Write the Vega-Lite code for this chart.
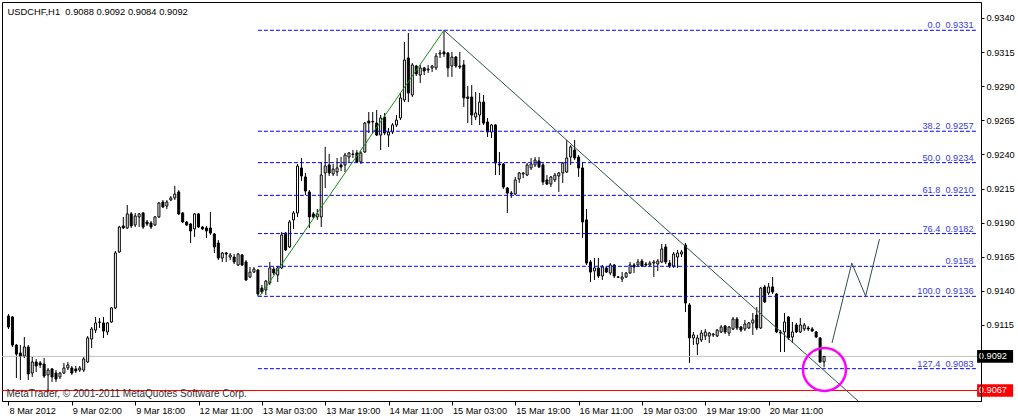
{
"$schema": "https://vega.github.io/schema/vega-lite/v6.json",
"width": 979, "height": 399,
"autosize": {"type": "none"},
"padding": {"left": 2, "top": 2, "right": 37, "bottom": 17},
"background": "white",
"config": {"view": {"stroke": "black", "strokeWidth": 1}, "font": "Liberation Sans", "axis": {"grid": false, "labelFont": "Liberation Sans", "labelFontSize": 9.2, "labelColor": "black", "tickColor": "black", "domainColor": "black"}},
"datasets": {
"candles": [
{"i":0,"o":0.91216,"h":0.91231,"l":0.91121,"c":0.91135},
{"i":1,"o":0.91209,"h":0.91216,"l":0.90989,"c":0.91003},
{"i":2,"o":0.91003,"h":0.91011,"l":0.90762,"c":0.90937},
{"i":3,"o":0.90945,"h":0.91003,"l":0.90747,"c":0.90923},
{"i":4,"o":0.90923,"h":0.91062,"l":0.90908,"c":0.90989},
{"i":5,"o":0.90989,"h":0.91003,"l":0.90747,"c":0.90791},
{"i":6,"o":0.90798,"h":0.90915,"l":0.90769,"c":0.90879},
{"i":7,"o":0.90879,"h":0.90901,"l":0.90806,"c":0.90850},
{"i":8,"o":0.90872,"h":0.90886,"l":0.90835,"c":0.90857},
{"i":9,"o":0.90864,"h":0.90908,"l":0.90762,"c":0.90776},
{"i":10,"o":0.90784,"h":0.90835,"l":0.90659,"c":0.90820},
{"i":11,"o":0.90828,"h":0.90835,"l":0.90732,"c":0.90769},
{"i":12,"o":0.90798,"h":0.90820,"l":0.90732,"c":0.90754},
{"i":13,"o":0.90769,"h":0.90806,"l":0.90754,"c":0.90798},
{"i":14,"o":0.90798,"h":0.90872,"l":0.90791,"c":0.90835},
{"i":15,"o":0.90835,"h":0.90879,"l":0.90820,"c":0.90857},
{"i":16,"o":0.90835,"h":0.90850,"l":0.90784,"c":0.90798},
{"i":17,"o":0.90828,"h":0.90850,"l":0.90798,"c":0.90813},
{"i":18,"o":0.90820,"h":0.90850,"l":0.90806,"c":0.90835},
{"i":19,"o":0.90820,"h":0.90915,"l":0.90806,"c":0.90901},
{"i":20,"o":0.90879,"h":0.91069,"l":0.90872,"c":0.91055},
{"i":21,"o":0.91047,"h":0.91135,"l":0.90981,"c":0.91121},
{"i":22,"o":0.91113,"h":0.91209,"l":0.91091,"c":0.91165},
{"i":23,"o":0.91172,"h":0.91201,"l":0.91128,"c":0.91170},
{"i":24,"o":0.91165,"h":0.91209,"l":0.91055,"c":0.91106},
{"i":25,"o":0.91099,"h":0.91172,"l":0.91077,"c":0.91165},
{"i":26,"o":0.91172,"h":0.91282,"l":0.91165,"c":0.91275},
{"i":27,"o":0.91275,"h":0.91692,"l":0.91267,"c":0.91678},
{"i":28,"o":0.91685,"h":0.91876,"l":0.91678,"c":0.91868},
{"i":29,"o":0.91876,"h":0.91942,"l":0.91854,"c":0.91861},
{"i":30,"o":0.91861,"h":0.92029,"l":0.91854,"c":0.91964},
{"i":31,"o":0.91964,"h":0.91978,"l":0.91861,"c":0.91876},
{"i":32,"o":0.91883,"h":0.91971,"l":0.91868,"c":0.91949},
{"i":33,"o":0.91942,"h":0.91971,"l":0.91868,"c":0.91964},
{"i":34,"o":0.91971,"h":0.91978,"l":0.91854,"c":0.91868},
{"i":35,"o":0.91905,"h":0.91920,"l":0.91876,"c":0.91890},
{"i":36,"o":0.91898,"h":0.91912,"l":0.91854,"c":0.91868},
{"i":37,"o":0.91883,"h":0.91949,"l":0.91876,"c":0.91942},
{"i":38,"o":0.91942,"h":0.92051,"l":0.91934,"c":0.92044},
{"i":39,"o":0.92051,"h":0.92066,"l":0.92007,"c":0.92015},
{"i":40,"o":0.92022,"h":0.92066,"l":0.92000,"c":0.92051},
{"i":41,"o":0.92066,"h":0.92095,"l":0.92059,"c":0.92081},
{"i":42,"o":0.92081,"h":0.92169,"l":0.92066,"c":0.92110},
{"i":43,"o":0.92125,"h":0.92139,"l":0.91956,"c":0.91964},
{"i":44,"o":0.91971,"h":0.91978,"l":0.91898,"c":0.91905},
{"i":45,"o":0.91905,"h":0.91912,"l":0.91876,"c":0.91883},
{"i":46,"o":0.91890,"h":0.91898,"l":0.91751,"c":0.91839},
{"i":47,"o":0.91854,"h":0.91971,"l":0.91795,"c":0.91964},
{"i":48,"o":0.91964,"h":0.91971,"l":0.91861,"c":0.91868},
{"i":49,"o":0.91868,"h":0.91876,"l":0.91846,"c":0.91854},
{"i":50,"o":0.91861,"h":0.91876,"l":0.91788,"c":0.91839},
{"i":51,"o":0.91861,"h":0.91978,"l":0.91810,"c":0.91824},
{"i":52,"o":0.91817,"h":0.91824,"l":0.91678,"c":0.91722},
{"i":53,"o":0.91751,"h":0.91773,"l":0.91626,"c":0.91641},
{"i":54,"o":0.91641,"h":0.91685,"l":0.91612,"c":0.91678},
{"i":55,"o":0.91678,"h":0.91685,"l":0.91612,"c":0.91670},
{"i":56,"o":0.91648,"h":0.91678,"l":0.91626,"c":0.91663},
{"i":57,"o":0.91648,"h":0.91670,"l":0.91597,"c":0.91612},
{"i":58,"o":0.91590,"h":0.91678,"l":0.91582,"c":0.91670},
{"i":59,"o":0.91663,"h":0.91670,"l":0.91582,"c":0.91590},
{"i":60,"o":0.91612,"h":0.91626,"l":0.91472,"c":0.91480},
{"i":61,"o":0.91502,"h":0.91575,"l":0.91494,"c":0.91538},
{"i":62,"o":0.91538,"h":0.91575,"l":0.91531,"c":0.91560},
{"i":63,"o":0.91553,"h":0.91560,"l":0.91360,"c":0.91377},
{"i":64,"o":0.91421,"h":0.91443,"l":0.91377,"c":0.91392},
{"i":65,"o":0.91407,"h":0.91480,"l":0.91370,"c":0.91472},
{"i":66,"o":0.91458,"h":0.91612,"l":0.91443,"c":0.91568},
{"i":67,"o":0.91560,"h":0.91575,"l":0.91516,"c":0.91531},
{"i":68,"o":0.91516,"h":0.91582,"l":0.91465,"c":0.91568},
{"i":69,"o":0.91568,"h":0.91832,"l":0.91560,"c":0.91810},
{"i":70,"o":0.91824,"h":0.91832,"l":0.91692,"c":0.91700},
{"i":71,"o":0.91722,"h":0.91920,"l":0.91714,"c":0.91905},
{"i":72,"o":0.91920,"h":0.91985,"l":0.91854,"c":0.91971},
{"i":73,"o":0.91971,"h":0.92330,"l":0.91942,"c":0.92315},
{"i":74,"o":0.92301,"h":0.92374,"l":0.92205,"c":0.92242},
{"i":75,"o":0.92235,"h":0.92264,"l":0.92103,"c":0.92132},
{"i":76,"o":0.92125,"h":0.92139,"l":0.91861,"c":0.91942},
{"i":77,"o":0.91964,"h":0.91978,"l":0.91927,"c":0.91942},
{"i":78,"o":0.91942,"h":0.92000,"l":0.91920,"c":0.91964},
{"i":79,"o":0.91942,"h":0.92345,"l":0.91868,"c":0.92249},
{"i":80,"o":0.92264,"h":0.92455,"l":0.92154,"c":0.92315},
{"i":81,"o":0.92323,"h":0.92403,"l":0.92242,"c":0.92264},
{"i":82,"o":0.92257,"h":0.92330,"l":0.92242,"c":0.92293},
{"i":83,"o":0.92271,"h":0.92374,"l":0.92242,"c":0.92301},
{"i":84,"o":0.92323,"h":0.92381,"l":0.92279,"c":0.92308},
{"i":85,"o":0.92323,"h":0.92411,"l":0.92271,"c":0.92396},
{"i":86,"o":0.92381,"h":0.92418,"l":0.92337,"c":0.92411},
{"i":87,"o":0.92403,"h":0.92433,"l":0.92374,"c":0.92400},
{"i":88,"o":0.92411,"h":0.92433,"l":0.92337,"c":0.92345},
{"i":89,"o":0.92345,"h":0.92425,"l":0.92330,"c":0.92411},
{"i":90,"o":0.92418,"h":0.92638,"l":0.92411,"c":0.92630},
{"i":91,"o":0.92645,"h":0.92711,"l":0.92557,"c":0.92630},
{"i":92,"o":0.92638,"h":0.92711,"l":0.92557,"c":0.92642},
{"i":93,"o":0.92630,"h":0.92726,"l":0.92535,"c":0.92542},
{"i":94,"o":0.92542,"h":0.92689,"l":0.92433,"c":0.92667},
{"i":95,"o":0.92674,"h":0.92704,"l":0.92542,"c":0.92557},
{"i":96,"o":0.92542,"h":0.92594,"l":0.92455,"c":0.92564},
{"i":97,"o":0.92564,"h":0.92630,"l":0.92550,"c":0.92616},
{"i":98,"o":0.92616,"h":0.92689,"l":0.92601,"c":0.92652},
{"i":99,"o":0.92667,"h":0.92850,"l":0.92652,"c":0.92814},
{"i":100,"o":0.92799,"h":0.93224,"l":0.92784,"c":0.93092},
{"i":101,"o":0.93107,"h":0.93290,"l":0.92784,"c":0.92850},
{"i":102,"o":0.92836,"h":0.93070,"l":0.92821,"c":0.93056},
{"i":103,"o":0.93048,"h":0.93056,"l":0.92975,"c":0.92990},
{"i":104,"o":0.92982,"h":0.93056,"l":0.92924,"c":0.93034},
{"i":105,"o":0.93034,"h":0.93041,"l":0.92982,"c":0.93012},
{"i":106,"o":0.93019,"h":0.93056,"l":0.92997,"c":0.93026},
{"i":107,"o":0.93034,"h":0.93056,"l":0.93004,"c":0.93048},
{"i":108,"o":0.93034,"h":0.93143,"l":0.93019,"c":0.93121},
{"i":109,"o":0.93136,"h":0.93165,"l":0.93107,"c":0.93143},
{"i":110,"o":0.93151,"h":0.93310,"l":0.93114,"c":0.93136},
{"i":111,"o":0.93143,"h":0.93151,"l":0.92968,"c":0.93034},
{"i":112,"o":0.93048,"h":0.93151,"l":0.92968,"c":0.93114},
{"i":113,"o":0.93114,"h":0.93121,"l":0.93034,"c":0.93048},
{"i":114,"o":0.93048,"h":0.93151,"l":0.93026,"c":0.93041},
{"i":115,"o":0.93056,"h":0.93092,"l":0.92748,"c":0.92814},
{"i":116,"o":0.92821,"h":0.92902,"l":0.92630,"c":0.92810},
{"i":117,"o":0.92821,"h":0.92909,"l":0.92616,"c":0.92689},
{"i":118,"o":0.92674,"h":0.92858,"l":0.92652,"c":0.92704},
{"i":119,"o":0.92689,"h":0.92850,"l":0.92616,"c":0.92784},
{"i":120,"o":0.92784,"h":0.92836,"l":0.92616,"c":0.92630},
{"i":121,"o":0.92638,"h":0.92667,"l":0.92528,"c":0.92564},
{"i":122,"o":0.92564,"h":0.92623,"l":0.92520,"c":0.92616},
{"i":123,"o":0.92616,"h":0.92623,"l":0.92249,"c":0.92337},
{"i":124,"o":0.92330,"h":0.92418,"l":0.92249,"c":0.92323},
{"i":125,"o":0.92330,"h":0.92337,"l":0.92147,"c":0.92161},
{"i":126,"o":0.92154,"h":0.92161,"l":0.91971,"c":0.92117},
{"i":127,"o":0.92117,"h":0.92132,"l":0.92081,"c":0.92110},
{"i":128,"o":0.92110,"h":0.92235,"l":0.92103,"c":0.92213},
{"i":129,"o":0.92220,"h":0.92271,"l":0.92191,"c":0.92264},
{"i":130,"o":0.92257,"h":0.92271,"l":0.92227,"c":0.92264},
{"i":131,"o":0.92249,"h":0.92337,"l":0.92242,"c":0.92323},
{"i":132,"o":0.92301,"h":0.92374,"l":0.92286,"c":0.92330},
{"i":133,"o":0.92323,"h":0.92381,"l":0.92308,"c":0.92359},
{"i":134,"o":0.92352,"h":0.92381,"l":0.92301,"c":0.92308},
{"i":135,"o":0.92323,"h":0.92337,"l":0.92176,"c":0.92198},
{"i":136,"o":0.92213,"h":0.92249,"l":0.92176,"c":0.92183},
{"i":137,"o":0.92183,"h":0.92242,"l":0.92161,"c":0.92235},
{"i":138,"o":0.92213,"h":0.92264,"l":0.92198,"c":0.92249},
{"i":139,"o":0.92242,"h":0.92271,"l":0.92125,"c":0.92264},
{"i":140,"o":0.92264,"h":0.92345,"l":0.92191,"c":0.92337},
{"i":141,"o":0.92271,"h":0.92506,"l":0.92264,"c":0.92374},
{"i":142,"o":0.92381,"h":0.92469,"l":0.92323,"c":0.92455},
{"i":143,"o":0.92433,"h":0.92506,"l":0.92359,"c":0.92374},
{"i":144,"o":0.92381,"h":0.92396,"l":0.92235,"c":0.92301},
{"i":145,"o":0.92301,"h":0.92345,"l":0.91788,"c":0.91905},
{"i":146,"o":0.91920,"h":0.92000,"l":0.91590,"c":0.91604},
{"i":147,"o":0.91612,"h":0.91626,"l":0.91465,"c":0.91538},
{"i":148,"o":0.91546,"h":0.91641,"l":0.91480,"c":0.91568},
{"i":149,"o":0.91568,"h":0.91641,"l":0.91494,"c":0.91509},
{"i":150,"o":0.91509,"h":0.91590,"l":0.91480,"c":0.91575},
{"i":151,"o":0.91568,"h":0.91582,"l":0.91531,"c":0.91538},
{"i":152,"o":0.91531,"h":0.91604,"l":0.91516,"c":0.91590},
{"i":153,"o":0.91590,"h":0.91597,"l":0.91494,"c":0.91509},
{"i":154,"o":0.91502,"h":0.91509,"l":0.91494,"c":0.91500},
{"i":155,"o":0.91487,"h":0.91538,"l":0.91465,"c":0.91502},
{"i":156,"o":0.91502,"h":0.91538,"l":0.91494,"c":0.91531},
{"i":157,"o":0.91531,"h":0.91612,"l":0.91524,"c":0.91590},
{"i":158,"o":0.91590,"h":0.91604,"l":0.91531,"c":0.91575},
{"i":159,"o":0.91590,"h":0.91634,"l":0.91575,"c":0.91612},
{"i":160,"o":0.91619,"h":0.91634,"l":0.91575,"c":0.91582},
{"i":161,"o":0.91597,"h":0.91612,"l":0.91575,"c":0.91590},
{"i":162,"o":0.91590,"h":0.91619,"l":0.91575,"c":0.91604},
{"i":163,"o":0.91604,"h":0.91626,"l":0.91502,"c":0.91612},
{"i":164,"o":0.91597,"h":0.91634,"l":0.91546,"c":0.91619},
{"i":165,"o":0.91612,"h":0.91744,"l":0.91604,"c":0.91707},
{"i":166,"o":0.91722,"h":0.91744,"l":0.91597,"c":0.91612},
{"i":167,"o":0.91604,"h":0.91626,"l":0.91568,"c":0.91582},
{"i":168,"o":0.91582,"h":0.91685,"l":0.91568,"c":0.91670},
{"i":169,"o":0.91648,"h":0.91700,"l":0.91568,"c":0.91678},
{"i":170,"o":0.91670,"h":0.91700,"l":0.91648,"c":0.91685},
{"i":171,"o":0.91736,"h":0.91751,"l":0.91245,"c":0.91311},
{"i":172,"o":0.91297,"h":0.91311,"l":0.90872,"c":0.91055},
{"i":173,"o":0.91055,"h":0.91099,"l":0.91003,"c":0.91077},
{"i":174,"o":0.91011,"h":0.91077,"l":0.90930,"c":0.91055},
{"i":175,"o":0.91040,"h":0.91113,"l":0.91025,"c":0.91091},
{"i":176,"o":0.91069,"h":0.91121,"l":0.91040,"c":0.91099},
{"i":177,"o":0.91069,"h":0.91099,"l":0.91018,"c":0.91091},
{"i":178,"o":0.91077,"h":0.91091,"l":0.91062,"c":0.91084},
{"i":179,"o":0.91069,"h":0.91121,"l":0.91062,"c":0.91113},
{"i":180,"o":0.91099,"h":0.91150,"l":0.91091,"c":0.91135},
{"i":181,"o":0.91143,"h":0.91150,"l":0.91084,"c":0.91099},
{"i":182,"o":0.91091,"h":0.91143,"l":0.91069,"c":0.91135},
{"i":183,"o":0.91121,"h":0.91209,"l":0.91113,"c":0.91194},
{"i":184,"o":0.91194,"h":0.91209,"l":0.91113,"c":0.91128},
{"i":185,"o":0.91135,"h":0.91143,"l":0.91099,"c":0.91113},
{"i":186,"o":0.91121,"h":0.91187,"l":0.91106,"c":0.91157},
{"i":187,"o":0.91128,"h":0.91172,"l":0.91121,"c":0.91165},
{"i":188,"o":0.91165,"h":0.91238,"l":0.91077,"c":0.91187},
{"i":189,"o":0.91223,"h":0.91282,"l":0.91113,"c":0.91128},
{"i":190,"o":0.91128,"h":0.91429,"l":0.91121,"c":0.91421},
{"i":191,"o":0.91429,"h":0.91443,"l":0.91311,"c":0.91319},
{"i":192,"o":0.91385,"h":0.91458,"l":0.91370,"c":0.91429},
{"i":193,"o":0.91429,"h":0.91502,"l":0.91377,"c":0.91392},
{"i":194,"o":0.91377,"h":0.91385,"l":0.91091,"c":0.91099},
{"i":195,"o":0.91099,"h":0.91113,"l":0.90952,"c":0.91091},
{"i":196,"o":0.91099,"h":0.91238,"l":0.90952,"c":0.91172},
{"i":197,"o":0.91209,"h":0.91216,"l":0.91040,"c":0.91055},
{"i":198,"o":0.91062,"h":0.91172,"l":0.91018,"c":0.91099},
{"i":199,"o":0.91150,"h":0.91165,"l":0.91091,"c":0.91099},
{"i":200,"o":0.91099,"h":0.91201,"l":0.91091,"c":0.91150},
{"i":201,"o":0.91121,"h":0.91165,"l":0.91106,"c":0.91150},
{"i":202,"o":0.91128,"h":0.91143,"l":0.91106,"c":0.91121},
{"i":203,"o":0.91121,"h":0.91135,"l":0.91099,"c":0.91106},
{"i":204,"o":0.91099,"h":0.91106,"l":0.91055,"c":0.91062},
{"i":205,"o":0.91055,"h":0.91062,"l":0.90872,"c":0.90879},
{"i":206,"o":0.9088,"h":0.9092,"l":0.9084,"c":0.9092}
],
"fib": [
{"p":0.9331,"label":"0.0\u00a0\u00a00.9331"},
{"p":0.9257,"label":"38.2\u00a0\u00a00.9257"},
{"p":0.9234,"label":"50.0\u00a0\u00a00.9234"},
{"p":0.9210,"label":"61.8\u00a0\u00a00.9210"},
{"p":0.9182,"label":"76.4\u00a0\u00a00.9182"},
{"p":0.9158,"label":"0.9158"},
{"p":0.9136,"label":"100.0\u00a0\u00a00.9136"},
{"p":0.9083,"label":"127.4\u00a0\u00a00.9083"}
],
"hlines": [{"p":0.9092,"k":"bid"},{"p":0.9067,"k":"red"}],
"green": [{"i":63.4,"p":0.9136},{"i":110,"p":0.9331}],
"down": [{"i":110,"p":0.9331},{"i":214.6,"p":0.90593}],
"proj": [{"i":208,"p":0.91018},{"i":213,"p":0.91604},{"i":216.5,"p":0.91362},{"i":220,"p":0.9178}],
"circle": [{"i":206.1,"p":0.90824}]
},
"layer": [
{"data": {"name": "candles"}, "mark": {"type": "rule", "color": "black", "strokeWidth": 1},
 "encoding": {
  "x": {"field": "i", "type": "quantitative", "scale": {"domain": [-0.375, 244.375], "nice": false, "zero": false},
   "axis": {"values": [0,16,32,48,64,80,96,112,128,144,160,176,192], "labelExpr": "['8 Mar 2012','9 Mar 02:00','9 Mar 18:00','12 Mar 11:00','13 Mar 03:00','13 Mar 19:00','14 Mar 11:00','15 Mar 03:00','15 Mar 19:00','16 Mar 11:00','19 Mar 03:00','19 Mar 19:00','20 Mar 11:00'][round(datum.value/16)]",
    "labelAlign": "left", "labelBaseline": "top", "labelOffset": 0.5, "labelPadding": 1, "tickSize": 4, "tickColor": "black", "domainColor": "black", "labelColor": "black", "labelFont": "Liberation Sans", "labelFontSize": 9.2, "grid": false, "labelFlush": false, "labelOverlap": false,
    "title": "MetaTrader, © 2001-2011 MetaQuotes Software Corp.", "titleX": 4, "titleY": -5, "titleAlign": "left", "titleAnchor": "start", "titleBaseline": "alphabetic", "titleFont": "Liberation Sans", "titleFontSize": 10, "titleFontWeight": "normal", "titleColor": "#303030", "zindex": 1}},
  "y": {"field": "l", "type": "quantitative", "scale": {"domain": [0.90593, 0.935172], "nice": false, "zero": false},
   "axis": {"orient": "right", "values": [0.934,0.9315,0.929,0.9265,0.924,0.9215,0.919,0.9165,0.914,0.9115], "format": ".4f", "tickSize": 3, "labelPadding": 2, "tickColor": "black", "domainColor": "black", "labelColor": "black", "labelFont": "Liberation Sans", "labelFontSize": 9.2, "labelBaseline": "middle", "grid": false, "labelFlush": false, "labelOverlap": false,
    "title": "USDCHF,H1\u00a0 0.9088 0.9092 0.9084 0.9092", "titleX": -974, "titleY": 12.5, "titleAngle": 0, "titleAlign": "left", "titleAnchor": "start", "titleBaseline": "alphabetic", "titleFont": "Liberation Sans", "titleFontSize": 9.4, "titleFontWeight": "normal", "titleColor": "black", "zindex": 1}},
  "y2": {"field": "h"}}},
{"data": {"name": "hlines"}, "mark": {"type": "rule", "strokeWidth": 1},
 "encoding": {"y": {"field": "p", "type": "quantitative"},
  "color": {"condition": {"test": "datum.k == 'bid'", "value": "#c0c0c0"}, "value": "#ff0000"}}},
{"data": {"name": "candles"}, "mark": {"type": "bar", "size": 2, "stroke": "black", "strokeWidth": 1},
 "encoding": {
  "x": {"field": "i", "type": "quantitative"},
  "y": {"field": "o", "type": "quantitative"},
  "y2": {"field": "c"},
  "fill": {"condition": {"test": "datum.c >= datum.o", "value": "white"}, "value": "black"}}},
{"data": {"name": "fib"}, "mark": {"type": "rule", "color": "#0000ff", "strokeWidth": 1, "strokeDash": [4,2]},
 "encoding": {
  "x": {"datum": 63, "type": "quantitative"},
  "x2": {"datum": 244.375},
  "y": {"field": "p", "type": "quantitative"}}},
{"data": {"name": "fib"}, "mark": {"type": "text", "align": "right", "baseline": "alphabetic", "dy": -2, "font": "Liberation Sans", "fontSize": 9.2, "color": "#3a3ae0"},
 "encoding": {
  "x": {"datum": 243.75, "type": "quantitative"},
  "y": {"field": "p", "type": "quantitative"},
  "text": {"field": "label"}}},
{"data": {"name": "green"}, "mark": {"type": "line", "color": "#1a8c1a", "strokeWidth": 1},
 "encoding": {
  "x": {"field": "i", "type": "quantitative"},
  "y": {"field": "p", "type": "quantitative"}}},
{"data": {"name": "down"}, "mark": {"type": "line", "color": "#2f4f4f", "strokeWidth": 1},
 "encoding": {
  "x": {"field": "i", "type": "quantitative"},
  "y": {"field": "p", "type": "quantitative"}}},
{"data": {"name": "proj"}, "mark": {"type": "line", "color": "#2f4f4f", "strokeWidth": 1},
 "encoding": {
  "x": {"field": "i", "type": "quantitative"},
  "y": {"field": "p", "type": "quantitative"}}},
{"data": {"name": "circle"}, "mark": {"type": "point", "shape": "circle", "size": 1849, "filled": false, "stroke": "#ff00ff", "strokeWidth": 2.5, "opacity": 1},
 "encoding": {
  "x": {"field": "i", "type": "quantitative"},
  "y": {"field": "p", "type": "quantitative"}}},
{"data": {"name": "hlines"}, "mark": {"type": "point", "shape": "M-1,-0.35H1V0.35H-1Z", "size": 1296, "filled": true, "opacity": 1, "strokeWidth": 0},
 "encoding": {
  "x": {"datum": 249.2, "type": "quantitative"},
  "y": {"field": "p", "type": "quantitative"},
  "fill": {"condition": {"test": "datum.k == 'bid'", "value": "black"}, "value": "#ff0000"}}},
{"data": {"name": "hlines"}, "mark": {"type": "text", "align": "left", "baseline": "middle", "font": "Liberation Sans", "fontSize": 9.2, "color": "white"},
 "encoding": {
  "x": {"datum": 245.1, "type": "quantitative"},
  "y": {"field": "p", "type": "quantitative"},
  "text": {"field": "p", "type": "quantitative", "format": ".4f"}}}
]
}
